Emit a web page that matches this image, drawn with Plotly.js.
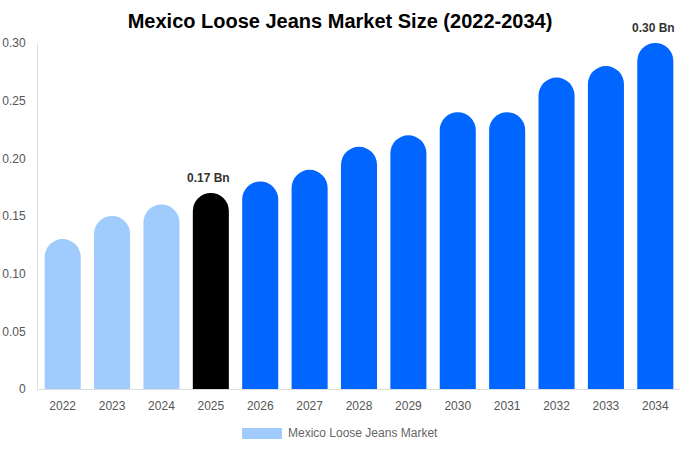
<!DOCTYPE html>
<html>
<head>
<meta charset="utf-8">
<script src="https://cdn.plot.ly/plotly-3.0.1.min.js"></script>
<style>html,body{margin:0;padding:0;background:#fff;}#chart{width:680px;height:450px;}</style>
</head>
<body>
<div id="chart"></div>
<script>
var years = ["2022","2023","2024","2025","2026","2027","2028","2029","2030","2031","2032","2033","2034"];
var marketSize = [0.13,0.15,0.16,0.17,0.18,0.19,0.21,0.22,0.24,0.24,0.27,0.28,0.30];
var barColors = ["#a0cbfd","#a0cbfd","#a0cbfd","#000000","#0066ff","#0066ff","#0066ff","#0066ff","#0066ff","#0066ff","#0066ff","#0066ff","#0066ff"];
var seriesName = "Mexico Loose Jeans Market";
var yTickVals = [0,0.05,0.10,0.15,0.20,0.25,0.30];
var yTickText = ["0","0.05","0.10","0.15","0.20","0.25","0.30"];
var labelledYears = ["2025","2034"];

var annotations = labelledYears.map(function(y){
  var i = years.indexOf(y);
  return {x: i, y: marketSize[i], xref:'x', yref:'y', text: marketSize[i].toFixed(2)+' Bn',
    showarrow:false, yanchor:'bottom', yshift:6, xshift:-2,
    font:{family:'Liberation Sans, Arial, sans-serif', size:12, color:'#333', weight:'bold'}};
});
annotations.push({xref:'paper', yref:'paper', x:0.3864, y:-0.1286, xanchor:'left', yanchor:'middle',
  text: seriesName, showarrow:false, font:{family:'Liberation Sans, Arial, sans-serif', size:12, color:'#666'}});

var trace = {
  type:'bar', x: years, y: marketSize, name: seriesName,
  marker:{color: barColors, cornerradius: 18, line:{width:0}},
  hoverinfo:'x+y', showlegend:false
};

var layout = {
  width:680, height:450,
  margin:{l:38, r:0, t:43, b:61},
  paper_bgcolor:'#fff', plot_bgcolor:'#fff',
  title:{text:'<b>Mexico Loose Jeans Market Size (2022-2034)</b>', x:0.5, xanchor:'center', y:0.953, yanchor:'middle',
    font:{family:'Liberation Sans, Arial, sans-serif', size:20, color:'#000'}},
  bargap:0.27,
  xaxis:{type:'category', range:[-0.5, years.length-0.5], showgrid:false, zeroline:false, showline:true, linecolor:'#ddd', linewidth:1,
    ticks:'outside', ticklen:6, tickcolor:'rgba(0,0,0,0)',
    tickfont:{family:'Liberation Sans, Arial, sans-serif', size:12, color:'#555'}},
  yaxis:{range:[0,0.30], tickvals:yTickVals, ticktext:yTickText, showgrid:false, zeroline:false,
    showline:true, linecolor:'#ddd', linewidth:1, ticks:'outside', ticklen:9, tickcolor:'rgba(0,0,0,0)',
    tickfont:{family:'Liberation Sans, Arial, sans-serif', size:12, color:'#555'}},
  shapes:[{type:'rect', xref:'paper', yref:'paper', x0:0.3178, x1:0.380, y0:-0.1445, y1:-0.1127,
    fillcolor:barColors[0], line:{width:0}}],
  annotations: annotations,
  showlegend:false
};

Plotly.newPlot('chart',[trace],layout,{displayModeBar:false, staticPlot:true});
</script>
</body>
</html>
